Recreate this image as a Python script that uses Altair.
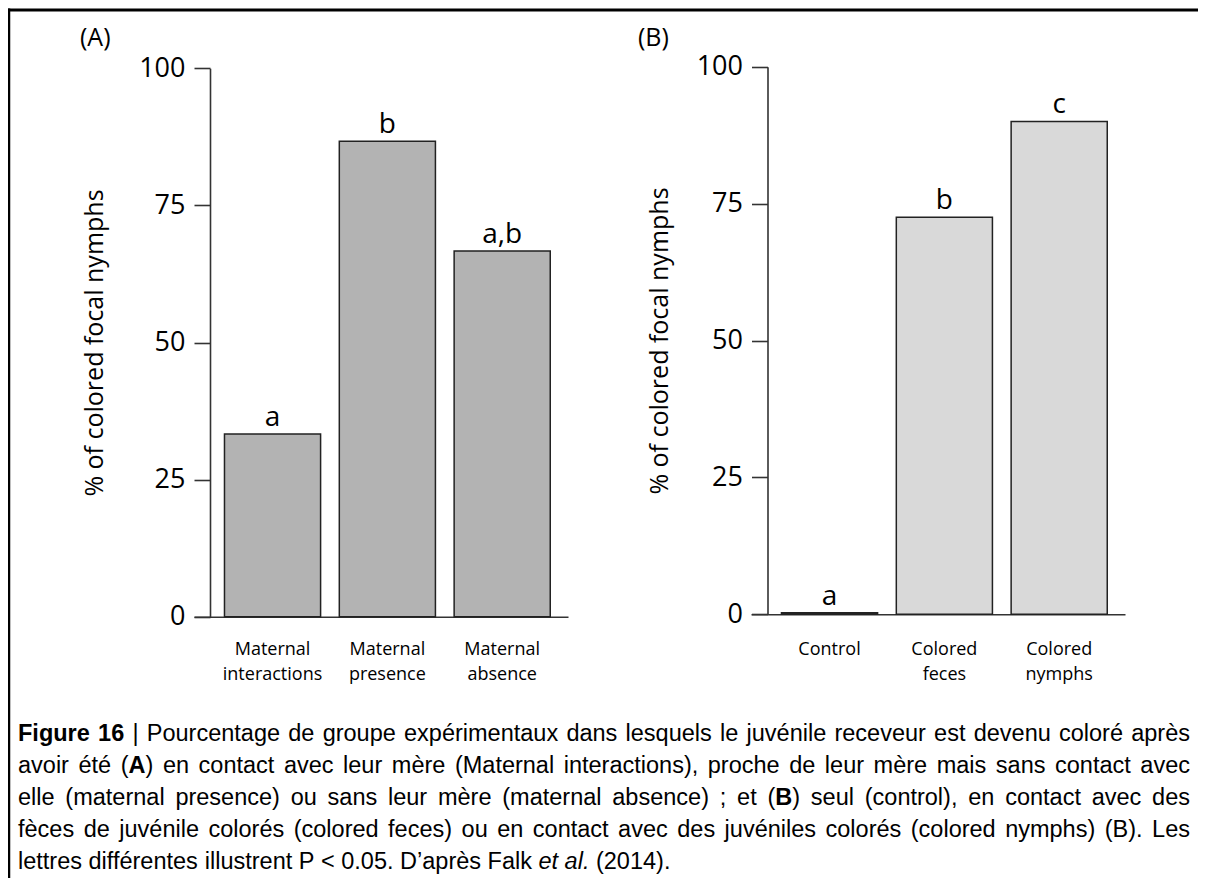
import altair as alt
import pandas as pd

# ---------------- data ----------------
cats_a = ["Maternal interactions", "Maternal presence", "Maternal absence"]
vals_a = [33.3, 86.7, 66.7]
letters_a = ["a", "b", "a,b"]

cats_b = ["Control", "Colored feces", "Colored nymphs"]
vals_b = [0.3, 72.5, 90.0]
letters_b = ["a", "b", "c"]

y_ticks = [0, 25, 50, 75, 100]
y_title = "% of colored focal nymphs"
tag_a = "(A)"
tag_b = "(B)"

caption_lines = [
    "**Figure** **16** | Pourcentage de groupe expérimentaux dans lesquels le juvénile receveur est devenu coloré après",
    "avoir été (**A**) en contact avec leur mère (Maternal interactions), proche de leur mère mais sans contact avec",
    "elle (maternal presence) ou sans leur mère (maternal absence) ; et (**B**) seul (control), en contact avec des",
    "fèces de juvénile colorés (colored feces) ou en contact avec des juvéniles colorés (colored nymphs) (B). Les",
    "lettres différentes illustrent P < 0.05. D’après Falk _et_ _al._ (2014).",
]

# ---------------- layout ----------------
W, H = 1190, 870
FONT = "Open Sans"
CAP_FONT = "Liberation Sans"
CAP_SIZE = 23.5
CAP_LEFT, CAP_RIGHT = 10, 1182
CAP_BASE0, CAP_LEAD = 733, 32

# Arial / Liberation Sans advance widths (1/1000 em)
AR = {' ': 278, '!': 278, '%': 889, "'": 191, '(': 333, ')': 333, ',': 278, '-': 333,
      '.': 278, '/': 278, ':': 278, ';': 278, '<': 584, '>': 584, '|': 260, '’': 222}
for d in "0123456789":
    AR[d] = 556
AR.update(dict(zip("ABCDEFGHIJKLMNOPQRSTUVWXYZ",
                   [667, 667, 722, 722, 667, 611, 778, 722, 278, 500, 667, 556, 833,
                    722, 778, 667, 778, 722, 667, 611, 722, 667, 944, 667, 667, 611])))
AR.update(dict(zip("abcdefghijklmnopqrstuvwxyz",
                   [556, 556, 500, 556, 556, 278, 556, 556, 222, 222, 500, 222, 833,
                    556, 556, 556, 556, 333, 500, 278, 556, 500, 722, 500, 500, 500])))
BOLD = dict(AR)
BOLD.update({'A': 722, 'B': 722, 'F': 611, 'g': 611, 'i': 278, 'r': 389, 'u': 611})
ACC = {'é': 'e', 'è': 'e', 'ê': 'e', 'à': 'a', 'â': 'a', 'ù': 'u', 'û': 'u', 'ô': 'o', 'ç': 'c'}


def run_w(text, style):
    table = BOLD if style == "bold" else AR
    return sum(table.get(ACC.get(c, c), 556) for c in text) * CAP_SIZE / 1000.0


def parse_runs(word):
    runs, buf, bold, ital, i = [], "", False, False, 0

    def st():
        return "bold" if bold else ("italic" if ital else "regular")

    while i < len(word):
        if word.startswith("**", i):
            if buf:
                runs.append((buf, st()))
                buf = ""
            bold = not bold
            i += 2
            continue
        if word[i] == "_":
            if buf:
                runs.append((buf, st()))
                buf = ""
            ital = not ital
            i += 1
            continue
        buf += word[i]
        i += 1
    if buf:
        runs.append((buf, st()))
    return runs


rows = []
for li, line in enumerate(caption_lines):
    words = line.split(" ")
    wr = [parse_runs(w) for w in words]
    ww = [sum(run_w(t, s) for t, s in r) for r in wr]
    last = li == len(caption_lines) - 1
    gap = AR[' '] * CAP_SIZE / 1000.0 if last else (CAP_RIGHT - CAP_LEFT - sum(ww)) / (len(words) - 1)
    x = CAP_LEFT
    y = CAP_BASE0 + li * CAP_LEAD
    for r, w in zip(wr, ww):
        cx = x
        for t, s in r:
            rows.append(dict(text=t, px=cx, py=y, style=s))
            cx += run_w(t, s)
        x += w + gap
cap_df = pd.DataFrame(rows)


def cap_layer(style, weight, fstyle):
    return alt.Chart(cap_df).transform_filter(alt.datum.style == style).mark_text(
        font=CAP_FONT, fontSize=CAP_SIZE, fontWeight=weight, fontStyle=fstyle,
        align="left", baseline="alphabetic", color="black"
    ).encode(
        x=alt.X("px:Q", scale=None, axis=None),
        y=alt.Y("py:Q", scale=None, axis=None),
        text="text:N",
    )


def panel(cats, vals, letters, fill, xr, yr, yoff, lpad, tpad):
    df = pd.DataFrame({"cat": cats, "val": vals, "lab": letters})
    xs = alt.Scale(domain=cats, range=xr, paddingInner=0.163, paddingOuter=0.21, align=0.632)
    ys = alt.Scale(domain=[0, 100], range=yr, nice=False, zero=True)
    xaxis = alt.Axis(orient="bottom", offset=-(H - yr[0]), ticks=False, tickSize=0,
                     labelPadding=lpad, labelBaseline="middle", labelLineHeight=25,
                     labelFont=FONT, labelFontSize=18, labelColor="black", labelAngle=0,
                     labelExpr="split(datum.label, ' ')", domainColor="#333",
                     domainWidth=1.6, title=None)
    yaxis = alt.Axis(orient="left", offset=yoff, values=y_ticks, tickSize=16,
                     tickColor="#333", tickWidth=1.6, domainColor="#333", domainWidth=1.6,
                     labelPadding=9, labelFont=FONT, labelFontSize=27, labelColor="black",
                     grid=False, title=y_title, titleFont=FONT, titleFontSize=25,
                     titleFontWeight="normal", titleColor="black", titlePadding=tpad)
    x = alt.X("cat:N", scale=xs, axis=xaxis, sort=cats)
    y = alt.Y("val:Q", scale=ys, axis=yaxis)
    bars = alt.Chart().mark_bar(fill=fill, stroke="#222", strokeWidth=1.5).encode(x=x, y=y)
    txt = alt.Chart().mark_text(font=FONT, fontSize=28, baseline="alphabetic", dy=-8,
                                color="black").encode(x=x, y=y, text="lab:N")
    return alt.layer(bars, txt, data=df)


pA = panel(cats_a, vals_a, letters_a, "#b3b3b3", [186, 560], [608.7, 60.3], -202, 32.5, 31)
pB = panel(cats_b, vals_b, letters_b, "#d9d9d9", [743, 1117], [606.3, 58.7], -759.5, 35, 24)

one = pd.DataFrame({"t": [0]})
border_top = alt.Chart(one).mark_rule(color="black", strokeWidth=3).encode(
    x=alt.value(0), x2=alt.value(W), y=alt.value(2))
border_left = alt.Chart(one).mark_rule(color="black", strokeWidth=3).encode(
    x=alt.value(0.75), y=alt.value(0.5), y2=alt.value(H))

tags = pd.DataFrame({"t": [tag_a, tag_b]})
tagA = alt.Chart(tags).transform_filter(alt.datum.t == tag_a).mark_text(
    font=FONT, fontSize=25, align="left", baseline="middle", color="black"
).encode(x=alt.value(72), y=alt.value(30), text="t:N")
tagB = alt.Chart(tags).transform_filter(alt.datum.t == tag_b).mark_text(
    font=FONT, fontSize=25, align="left", baseline="middle", color="black"
).encode(x=alt.value(630), y=alt.value(30), text="t:N")

chart = alt.layer(
    border_top, border_left, pA, pB, tagA, tagB,
    cap_layer("regular", "normal", "normal"),
    cap_layer("bold", "bold", "normal"),
    cap_layer("italic", "normal", "italic"),
).resolve_scale(x="independent", y="independent").resolve_axis(
    x="independent", y="independent"
).properties(
    width=W, height=H, autosize=alt.AutoSizeParams(type="none"), padding=0,
    background="white"
).configure_view(stroke=None)

chart.save("out.html", embed_options={"renderer": "svg", "actions": False})
